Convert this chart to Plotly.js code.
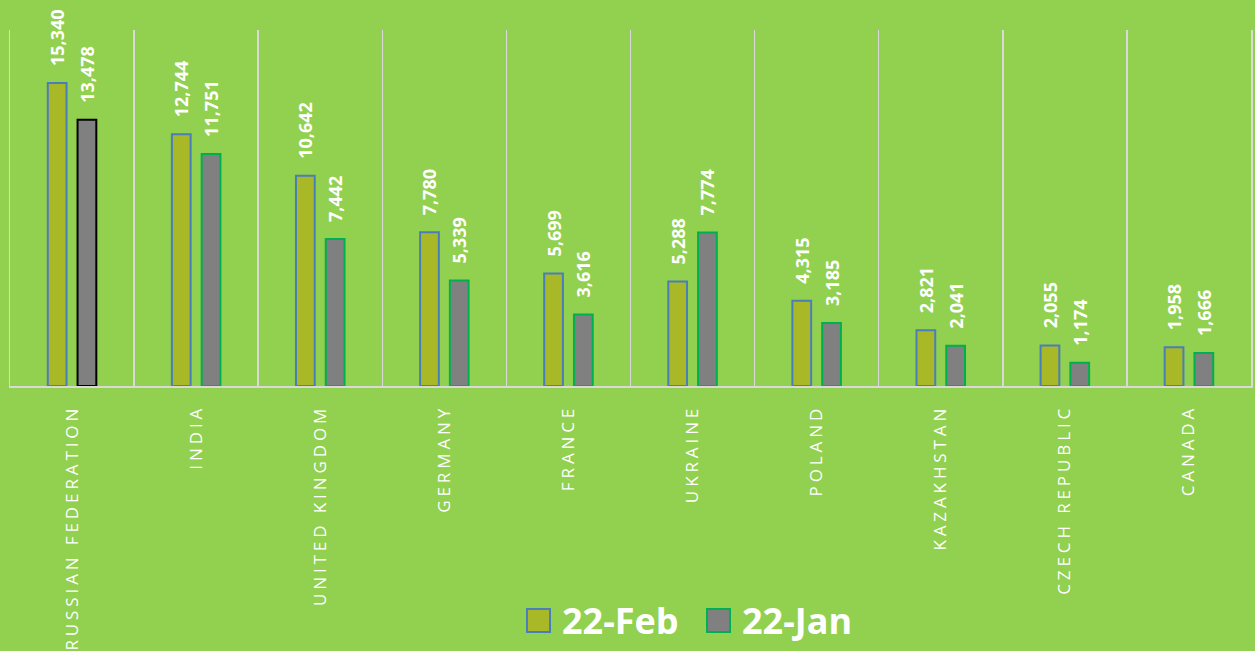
<!DOCTYPE html>
<html>
<head>
<meta charset="utf-8">
<script src="https://cdn.plot.ly/plotly-3.0.1.min.js"></script>
<style>
html,body{margin:0;padding:0;background:#92D050;}
#chart{width:1255px;height:651px;}
</style>
</head>
<body>
<div id="chart"></div>
<script>
const categories = ["RUSSIAN FEDERATION","INDIA","UNITED KINGDOM","GERMANY","FRANCE","UKRAINE","POLAND","KAZAKHSTAN","CZECH REPUBLIC","CANADA"];
const feb22 = [15340,12744,10642,7780,5699,5288,4315,2821,2055,1958];
const jan22 = [13478,11751,7442,5339,3616,7774,3185,2041,1174,1666];
const seriesNames = ["22-Feb","22-Jan"];

const pad = "\u00a0\u00a0\u00a0";
const labelFont = {family:"Open Sans", size:18, color:"#FFFFFF", weight:700};
const FEB_FILL = "#A8B826", FEB_LINE = "#4A7EBB";
const JAN_FILL = "#808080", JAN_LINE = "#00B050";

const traceFeb = {
  type:"bar", name:seriesNames[0], x:categories, y:feb22,
  marker:{color:FEB_FILL, line:{color:FEB_LINE, width:2}},
  text:feb22.map(v => pad + v.toLocaleString("en-US")),
  textposition:"outside", textangle:-90, constraintext:"none", cliponaxis:false,
  textfont:labelFont, showlegend:false
};
const traceJan = {
  type:"bar", name:seriesNames[1], x:categories, y:jan22,
  marker:{color:JAN_FILL, line:{color:categories.map((c,i)=> i===0 ? "#000000" : JAN_LINE), width:2}},
  text:jan22.map(v => pad + v.toLocaleString("en-US")),
  textposition:"outside", textangle:-90, constraintext:"none", cliponaxis:false,
  textfont:labelFont, showlegend:false
};

// custom legend (pixel positions converted to paper coords)
const L = 10, PW = 1241, B = 386, PH = 356;
const px = v => (v - L) / PW;
const py = v => (B - v) / PH;
const legendItems = [
  {x0:527, fill:FEB_FILL, line:FEB_LINE, textX:560, name:seriesNames[0]},
  {x0:707, fill:JAN_FILL, line:JAN_LINE, textX:740, name:seriesNames[1]}
];
const shapes = legendItems.map(it => ({
  type:"rect", xref:"paper", yref:"paper",
  x0:px(it.x0), x1:px(it.x0+23), y0:py(632), y1:py(609),
  fillcolor:it.fill, line:{color:it.line, width:2}
}));
const annotations = legendItems.map(it => ({
  xref:"paper", yref:"paper", x:px(it.textX), y:py(620), xanchor:"left", yanchor:"middle",
  text:it.name, showarrow:false,
  font:{family:"Open Sans", size:36, color:"#FFFFFF", weight:700}
}));

const layout = {
  width:1255, height:651,
  paper_bgcolor:"#92D050", plot_bgcolor:"#92D050",
  margin:{l:10, r:4, t:30, b:265},
  barmode:"group", bargap:0.52, bargroupgap:0.37,
  showlegend:false,
  shapes:shapes, annotations:annotations,
  xaxis:{type:"category", tickson:"boundaries", showgrid:true, gridcolor:"#D9D9D9", gridwidth:1.5,
         showline:true, linecolor:"#D9D9D9", linewidth:2, ticks:"", tickangle:-90,
         tickfont:{family:"Open Sans", size:17, color:"#FFFFFF"}, ticklabelstandoff:10,
         automargin:false, fixedrange:true},
  yaxis:{range:[0,18025], visible:true, showticklabels:false, ticks:"", showgrid:false, zeroline:false,
         showline:true, mirror:true, linecolor:"#D9D9D9", linewidth:1.5, fixedrange:true},
  font:{family:"Open Sans", color:"#FFFFFF"}
};

const gd = document.getElementById("chart");
function tweak(){
  document.querySelectorAll(".xtick text").forEach(t => { t.style.letterSpacing = "3.9px"; });
}
Plotly.newPlot(gd, [traceFeb, traceJan], layout, {displayModeBar:false, staticPlot:true}).then(() => {
  tweak();
  gd.on("plotly_afterplot", tweak);
});
</script>
</body>
</html>
